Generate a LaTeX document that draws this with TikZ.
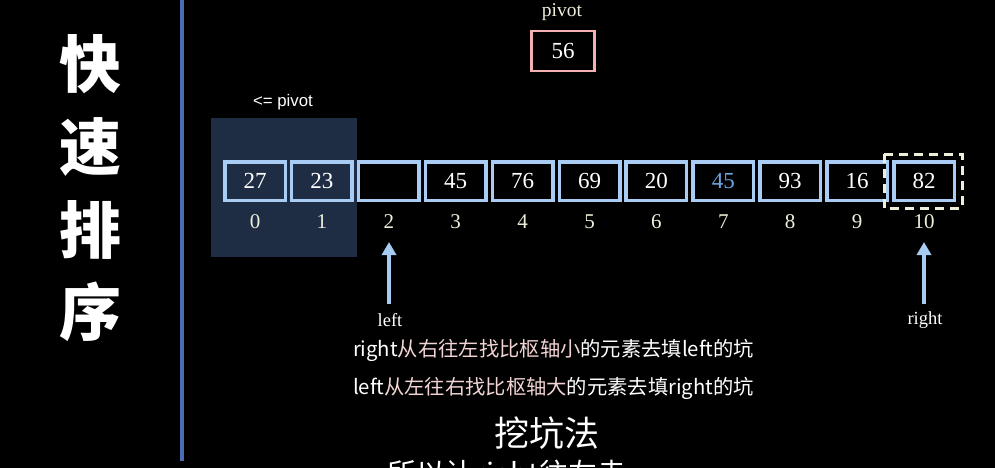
\documentclass[tikz,border=0pt]{standalone}
\usepackage{fontspec}
\setmainfont{Liberation Serif}
\newfontfamily\cjk{Noto Sans CJK SC}
\newfontfamily\lsans{Liberation Sans}
\usetikzlibrary{arrows.meta}
\definecolor{navy}{HTML}{1F2D44}
\definecolor{cellblue}{HTML}{A8CCF4}
\definecolor{cream}{HTML}{EEEEDA}
\definecolor{pinkc}{HTML}{F4B0B0}
\definecolor{pinktext}{HTML}{F2D4D4}
\definecolor{barblue}{HTML}{4A6CB5}
\definecolor{numblue}{HTML}{6CA4E4}
\definecolor{arrblue}{HTML}{A6CCF2}
\begin{document}
\begin{tikzpicture}[x=1pt,y=-1pt,
  cell/.style={draw=cellblue,line width=3.5pt,minimum width=60.5pt,minimum height=38.5pt,inner sep=0pt,text=white,font=\fontsize{23}{23}\selectfont},
  idx/.style={text=cream,inner sep=0pt,font=\fontsize{21}{21}\selectfont},
  title/.style={text=white,inner sep=0pt,font=\cjk\bfseries\fontsize{62}{62}\selectfont},
  ptr/.style={draw=arrblue,line width=4pt,-{Triangle[width=14pt,length=13pt]}},
  ptrlbl/.style={text=white,inner sep=0pt,font=\fontsize{18.5}{18.5}\selectfont},
  expl/.style={text=white,inner sep=0pt,font=\cjk\fontsize{20.3}{20.3}\selectfont}]
\useasboundingbox (0,0) rectangle (995,468);
\clip (0,0) rectangle (995,468);
\fill[black] (0,0) rectangle (995,468);
% title
\node[title] (t1) at (90,64) {快};
\node[title] (t2) at (90,147) {速};
\node[title] (t3) at (90,230) {排};
\node[title] (t4) at (90,312) {序};
\coordinate (bartop) at (182,0);
\coordinate (barbot) at (182,461);
\draw[barblue,line width=3.5pt] (bartop) -- (barbot);
% pivot
\node[text=cream,inner sep=0pt,font=\fontsize{19.5}{19.5}\selectfont] (pivlbl) at (562,12) {pivot};
\node[draw=pinkc,line width=2.2pt,minimum width=63pt,minimum height=40pt,inner sep=0pt,text=white,font=\fontsize{23}{23}\selectfont] (piv) at (563,51) {56};
% region
\fill[navy] (211,118) rectangle (357,257);
\node[text=white,inner sep=0pt,font=\lsans\fontsize{16.8}{16.8}\selectfont] (le) at (283,102) {<= pivot};
% cells
\foreach \v [count=\i from 0] in {27,23,,45,76,69,20,{\textcolor{numblue}{45}},93,16,82} {
  \node[cell] (c\i) at (255+66.9*\i,181) {\v};
  \node[idx] (i\i) at (255+66.9*\i,222) {\i};
}
\draw[cream,line width=3pt,dash pattern=on 9pt off 6pt] (884,154) rectangle (962,208);
% pointers
\node[ptrlbl] (lft) at (390,320) {left};
\coordinate (lbase) at (389,304);
\coordinate (ltip) at (389,242);
\draw[ptr] (lbase) -- (ltip);
\node[ptrlbl] (rgt) at (925,320) {right};
\coordinate (rbase) at (924,304);
\coordinate (rtip) at (924,242);
\draw[ptr] (rbase) -- (rtip);
% explanation
\node[expl] (e1) at (553.5,350) {right\textcolor{pinktext}{从右往左找比枢轴小}的元素去填left的坑};
\node[expl] (e2) at (553.5,388) {left\textcolor{pinktext}{从左往右找比枢轴大}的元素去填right的坑};
\node[text=white,inner sep=0pt,font=\cjk\fontsize{35}{35}\selectfont] (e3) at (547,433) {挖坑法};
\node[text=white,inner sep=0pt,font=\cjk\fontsize{29}{29}\selectfont] (e4) at (507,476) {所以让right往左走};
\end{tikzpicture}
\end{document}
